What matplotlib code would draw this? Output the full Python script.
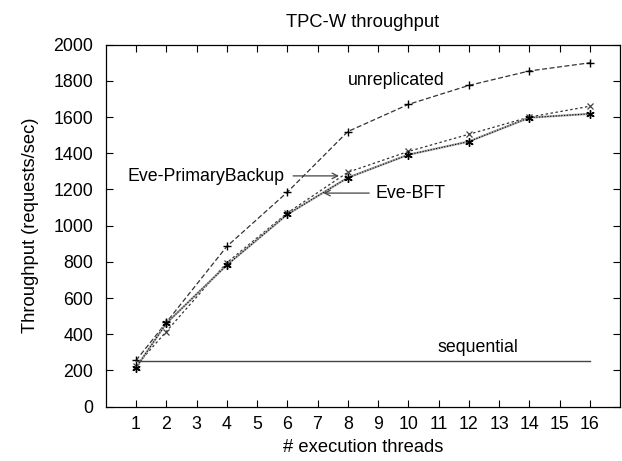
import matplotlib
matplotlib.use('Agg')
import matplotlib.pyplot as plt
import numpy as np

plt.rcParams['font.family'] = ['Liberation Sans', 'DejaVu Sans']

# data
threads = [1, 2, 4, 6, 8, 10, 12, 14, 16]
unreplicated = [255, 465, 885, 1185, 1520, 1670, 1775, 1855, 1900]
primary_backup = [225, 415, 795, 1070, 1295, 1410, 1505, 1600, 1660]
eve_bft = [215, 460, 782, 1062, 1265, 1392, 1465, 1597, 1618]
sequential = 250

fs = 12.8

fig = plt.figure(figsize=(6.22, 4.61), dpi=100)
ax = fig.add_axes([0.17, 0.118, 0.827, 0.785])

ax.plot(threads, unreplicated, color='#333333', ls=(0, (4, 2)), lw=0.9,
        marker='+', ms=6, mew=1.0, mec='black')
ax.plot(threads, primary_backup, color='#333333', ls=(0, (2, 2)), lw=0.9,
        marker='x', ms=5, mew=0.9, mec='#444444')
ax.plot(threads, eve_bft, color='#aaaaaa', ls='-', lw=1.6)
ax.plot(threads, eve_bft, color='black', ls=(0, (1, 1.5)), lw=0.8,
        marker=(6, 2, 0), ms=6, mew=1.0, mec='black')
ax.plot([threads[0], threads[-1]], [sequential, sequential], color='#444444', lw=1.0)

ax.text(9.6, 1800, 'unreplicated', fontsize=fs, ha='center', va='center')
ax.text(3.3, 1272, 'Eve-PrimaryBackup', fontsize=fs, ha='center', va='center')
ax.text(8.92, 1177, 'Eve-BFT', fontsize=fs, ha='left', va='center')
ax.text(12.3, 326, 'sequential', fontsize=fs, ha='center', va='center')
ax.annotate('', xy=(7.8, 1275), xytext=(6.1, 1275),
            arrowprops=dict(arrowstyle='->', color='#444444', lw=0.9))
ax.annotate('', xy=(7.1, 1180), xytext=(8.8, 1180),
            arrowprops=dict(arrowstyle='->', color='#444444', lw=0.9))

ax.set_xlim(0, 17)
ax.set_ylim(0, 2000)
ax.set_xticks(range(1, 17))
ax.set_yticks(range(0, 2001, 200))
ax.tick_params(direction='in', top=True, right=True, labelsize=fs, length=5, width=0.8)
ax.tick_params(axis='x', pad=7)
ax.tick_params(axis='y', pad=9)
for s in ax.spines.values():
    s.set_linewidth(0.9)

ax.set_title('TPC-W throughput', fontsize=fs + 0.4, pad=13)
ax.set_xlabel('# execution threads', fontsize=fs + 0.4, labelpad=4)
ax.set_ylabel('Throughput (requests/sec)', fontsize=fs + 0.4, labelpad=10)

fig.savefig('out.png')
